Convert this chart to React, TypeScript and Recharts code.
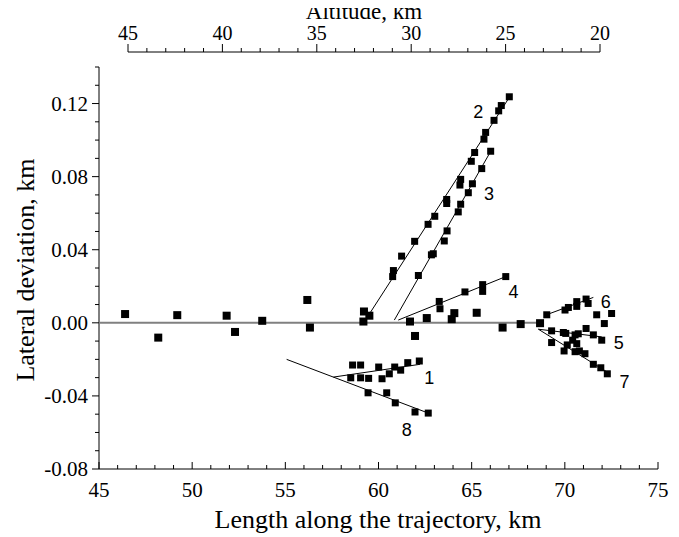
import React from "react";
import { ScatterChart, Scatter, XAxis, YAxis } from "recharts";

const SERIF = "'Liberation Serif', 'Times New Roman', serif";
const SANS = "'Liberation Sans', Arial, sans-serif";

// ticks
const xTicks = [45, 46, 47, 48, 49, 50, 51, 52, 53, 54, 55, 56, 57, 58, 59, 60, 61, 62, 63, 64, 65, 66, 67, 68, 69, 70, 71, 72, 73, 74, 75];
const xLabelTicks = [45, 50, 55, 60, 65, 70, 75];
const yTicks = [-0.08, -0.07, -0.06, -0.05, -0.04, -0.03, -0.02, -0.01, 0, 0.01, 0.02, 0.03, 0.04, 0.05, 0.06, 0.07, 0.08, 0.09, 0.1, 0.11, 0.12, 0.13, 0.14];
const yLabelTicks = [-0.08, -0.04, 0, 0.04, 0.08, 0.12];
const altTicks = [20, 21, 22, 23, 24, 25, 26, 27, 28, 29, 30, 31, 32, 33, 34, 35, 36, 37, 38, 39, 40, 41, 42, 43, 44, 45];
const altLabelTicks = [20, 25, 30, 35, 40, 45];

// zero reference and fitted lines
const zeroLine = [{ x: 45, y: 0 }, { x: 68.6, y: 0 }];
const fit1 = [{ x: 57.58, y: -0.0297 }, { x: 62.23, y: -0.0227 }];
const fit2 = [{ x: 59.45, y: 0.0039 }, { x: 67.06, y: 0.124 }];
const fit3 = [{ x: 60.85, y: 0.0015 }, { x: 66.07, y: 0.0947 }];
const fit4 = [{ x: 61.06, y: 0.0015 }, { x: 66.83, y: 0.0253 }];
const fit5 = [{ x: 68.58, y: -0.0035 }, { x: 71.98, y: -0.0077 }];
const fit6 = [{ x: 69.2, y: 0.0051 }, { x: 71.53, y: 0.0139 }];
const fit7 = [{ x: 68.58, y: -0.0035 }, { x: 72.33, y: -0.0273 }];
const fit8 = [{ x: 55.07, y: -0.02 }, { x: 62.67, y: -0.0494 }];

// measured points
const basePoints = [
  { x: 46.4, y: 0.0048 }, { x: 48.18, y: -0.0081 }, { x: 49.2, y: 0.0042 }, { x: 51.85, y: 0.0039 },
  { x: 52.3, y: -0.005 }, { x: 53.76, y: 0.0011 }, { x: 56.18, y: 0.0125 }, { x: 56.32, y: -0.0026 },
  { x: 59.22, y: 0.0062 }, { x: 59.19, y: 0.0007 }, { x: 59.51, y: 0.0039 }, { x: 61.69, y: 0.0007 },
  { x: 61.96, y: -0.0072 }, { x: 62.59, y: 0.0026 }, { x: 63.93, y: 0.002 }, { x: 64.07, y: 0.0053 },
  { x: 65.27, y: 0.0055 }, { x: 66.66, y: -0.0026 }, { x: 67.63, y: -0.0007 }, { x: 68.67, y: -0.0002 },
];
const points1 = [
  { x: 58.61, y: -0.0231 }, { x: 59.04, y: -0.0231 }, { x: 58.51, y: -0.0301 }, { x: 59.04, y: -0.0301 },
  { x: 59.47, y: -0.0304 }, { x: 60.01, y: -0.0242 }, { x: 60.19, y: -0.0306 }, { x: 60.58, y: -0.0279 },
  { x: 60.87, y: -0.0242 }, { x: 61.19, y: -0.0259 }, { x: 61.57, y: -0.0218 }, { x: 62.19, y: -0.0209 },
];
const points2 = [
  { x: 67.02, y: 0.1237 }, { x: 66.59, y: 0.1189 }, { x: 66.45, y: 0.116 }, { x: 66.2, y: 0.1108 },
  { x: 65.75, y: 0.1042 }, { x: 65.66, y: 0.1005 }, { x: 65.16, y: 0.0932 }, { x: 64.98, y: 0.0884 },
  { x: 64.41, y: 0.0785 }, { x: 64.37, y: 0.0754 }, { x: 63.66, y: 0.0675 }, { x: 63.66, y: 0.0653 },
  { x: 63.02, y: 0.0583 }, { x: 62.66, y: 0.0539 }, { x: 61.94, y: 0.0446 }, { x: 61.24, y: 0.0365 },
  { x: 60.8, y: 0.0286 }, { x: 60.76, y: 0.0253 },
];
const points3 = [
  { x: 66.02, y: 0.0939 }, { x: 65.54, y: 0.0844 }, { x: 65.04, y: 0.0761 }, { x: 64.82, y: 0.0712 },
  { x: 64.41, y: 0.0649 }, { x: 64.28, y: 0.0607 }, { x: 63.68, y: 0.0503 }, { x: 63.53, y: 0.0448 },
  { x: 62.94, y: 0.0378 }, { x: 62.84, y: 0.0372 }, { x: 62.14, y: 0.0259 },
];
const points4 = [
  { x: 66.83, y: 0.0253 }, { x: 65.59, y: 0.0209 }, { x: 65.59, y: 0.0172 }, { x: 64.64, y: 0.0169 },
  { x: 63.26, y: 0.0117 }, { x: 63.3, y: 0.0077 },
];
const points5 = [
  { x: 69.29, y: -0.0044 }, { x: 69.92, y: -0.0053 }, { x: 70.05, y: -0.0058 }, { x: 70.55, y: -0.0066 },
  { x: 70.72, y: -0.006 }, { x: 71.14, y: -0.0031 }, { x: 71.53, y: -0.0066 }, { x: 71.98, y: -0.0095 },
  { x: 69.29, y: -0.0108 }, { x: 70.42, y: -0.0095 }, { x: 70.64, y: -0.0114 },
];
const points6 = [
  { x: 69.03, y: 0.0044 }, { x: 70.01, y: 0.007 }, { x: 70.19, y: 0.0084 }, { x: 70.64, y: 0.0116 },
  { x: 70.64, y: 0.009 }, { x: 71.14, y: 0.013 }, { x: 71.25, y: 0.0106 }, { x: 71.71, y: 0.0044 },
  { x: 72.12, y: -0.0004 }, { x: 72.51, y: 0.0051 },
];
const points7 = [
  { x: 70.13, y: -0.0121 }, { x: 69.96, y: -0.0154 }, { x: 70.55, y: -0.0158 }, { x: 70.78, y: -0.0154 },
  { x: 71.08, y: -0.0169 }, { x: 71.53, y: -0.0227 }, { x: 71.93, y: -0.0246 }, { x: 72.28, y: -0.0279 },
];
const points8 = [
  { x: 59.44, y: -0.0383 }, { x: 60.44, y: -0.0383 }, { x: 60.9, y: -0.0438 }, { x: 61.96, y: -0.0488 },
  { x: 62.67, y: -0.0494 },
];

const seriesLabels = [
  { x: 65.36, y: 0.1157, label: "2" },
  { x: 65.93, y: 0.0704, label: "3" },
  { x: 67.24, y: 0.0172, label: "4" },
  { x: 62.73, y: -0.0301, label: "1" },
  { x: 61.51, y: -0.0585, label: "8" },
  { x: 72.2, y: 0.0117, label: "6" },
  { x: 72.9, y: -0.0108, label: "5" },
  { x: 73.2, y: -0.032, label: "7" },
];

const inList = (list: number[], v: number) => list.some((t) => Math.abs(t - v) < 1e-6);

const BottomTick = (props: any) => {
  const { x, y, payload } = props;
  const major = inList(xLabelTicks, payload.value);
  return (
    <g>
      <line x1={x} x2={x} y1={y} y2={y - (major ? 7 : 4)} stroke="#000" />
      {major && (
        <text x={x} y={y + 28} textAnchor="middle" fontFamily={SERIF} fontSize={21} fill="#000">
          {payload.value}
        </text>
      )}
    </g>
  );
};

const LeftTick = (props: any) => {
  const { x, y, payload } = props;
  const major = inList(yLabelTicks, payload.value);
  return (
    <g>
      <line x1={x - (major ? 7 : 4)} x2={x} y1={y} y2={y} stroke="#000" />
      {major && (
        <text x={x - 11} y={y + 7} textAnchor="end" fontFamily={SERIF} fontSize={21} fill="#000">
          {Number(payload.value).toFixed(2)}
        </text>
      )}
    </g>
  );
};

const RightTick = (props: any) => {
  const { x, y, payload } = props;
  const major = inList(yLabelTicks, payload.value);
  return <line x1={x - (major ? 7 : 5)} x2={x} y1={y} y2={y} stroke="#000" />;
};

const AltTick = (props: any) => {
  const { x, y, payload } = props;
  const major = inList(altLabelTicks, payload.value);
  return (
    <g>
      <line x1={x} x2={x} y1={y} y2={y - (major ? 8 : 4)} stroke="#000" />
      {major && (
        <text x={x} y={y - 12} textAnchor="middle" fontFamily={SERIF} fontSize={20} fill="#000">
          {payload.value}
        </text>
      )}
    </g>
  );
};

const BigSquare = (p: any) => <rect x={p.cx - 4} y={p.cy - 4} width={8} height={8} fill="#000" />;
const SmallSquare = (p: any) => <rect x={p.cx - 3.5} y={p.cy - 3.5} width={7} height={7} fill="#000" />;
const NoDot = () => <g />;
const NumberLabel = (p: any) => (
  <text x={p.cx} y={p.cy} dy="0.35em" textAnchor="middle" fontFamily={SANS} fontSize={18} fill="#000">
    {p.payload.label}
  </text>
);

const lineStyle = { stroke: "#000", strokeWidth: 1 };
const fits = [fit1, fit2, fit3, fit4, fit5, fit6, fit7, fit8];
const pointSets = [points1, points2, points3, points4, points5, points6, points7, points8];

export default function App() {
  return (
    <div style={{ position: "relative", width: 679, height: 537, marginLeft: -8, marginTop: -8 }}>
      <div style={{ position: "absolute", left: 0, top: 0 }}>
        <ScatterChart width={679} height={537} margin={{ top: 67, right: 21, bottom: 0, left: 0 }}>
          <XAxis
            type="number"
            dataKey="x"
            domain={[45, 75]}
            ticks={xTicks}
            interval={0}
            height={68}
            tickSize={0}
            tickMargin={0}
            tickLine={false}
            tick={BottomTick}
            axisLine={{ stroke: "#000" }}
            allowDataOverflow
          />
          <YAxis
            yAxisId="left"
            type="number"
            dataKey="y"
            domain={[-0.08, 0.14]}
            ticks={yTicks}
            interval={0}
            width={99}
            tickSize={0}
            tickMargin={0}
            tickLine={false}
            tick={LeftTick}
            axisLine={{ stroke: "#000" }}
            allowDataOverflow
          />
          <YAxis
            yAxisId="right"
            orientation="right"
            type="number"
            dataKey="y"
            domain={[-0.08, 0.14]}
            ticks={yTicks}
            interval={0}
            width={0}
            tickSize={0}
            tickMargin={0}
            tickLine={false}
            tick={RightTick}
            axisLine={{ stroke: "#000" }}
            allowDataOverflow
          />
          <Scatter
            yAxisId="left"
            data={zeroLine}
            line={{ stroke: "#808080", strokeWidth: 2 }}
            shape={NoDot}
            isAnimationActive={false}
          />
          {fits.map((d, i) => (
            <Scatter key={"fit" + i} yAxisId="left" data={d} line={lineStyle} shape={NoDot} isAnimationActive={false} />
          ))}
          <Scatter yAxisId="left" data={basePoints} shape={BigSquare} isAnimationActive={false} />
          {pointSets.map((d, i) => (
            <Scatter key={"pts" + i} yAxisId="left" data={d} shape={SmallSquare} isAnimationActive={false} />
          ))}
          <Scatter yAxisId="left" data={seriesLabels} shape={NumberLabel} isAnimationActive={false} />
        </ScatterChart>
      </div>
      <div style={{ position: "absolute", left: 0, top: 0, pointerEvents: "none" }}>
        <ScatterChart width={679} height={70} margin={{ top: 0, right: 79, bottom: 0, left: 128 }}>
          <XAxis
            xAxisId="alt"
            orientation="top"
            type="number"
            dataKey="x"
            domain={[20, 45]}
            reversed
            ticks={altTicks}
            interval={0}
            height={52}
            tickSize={0}
            tickMargin={0}
            tickLine={false}
            tick={AltTick}
            axisLine={{ stroke: "#000" }}
            allowDataOverflow
          />
          <YAxis yAxisId="alt" type="number" dataKey="y" domain={[0, 1]} hide />
          <Scatter xAxisId="alt" yAxisId="alt" data={[]} shape={NoDot} isAnimationActive={false} />
        </ScatterChart>
      </div>
      <div
        style={{
          position: "absolute",
          left: 364,
          top: 0,
          transform: "translateX(-50%)",
          fontFamily: SERIF,
          fontSize: 23,
          whiteSpace: "nowrap",
          lineHeight: 1,
        }}
      >
        Altitude, km
      </div>
      <div
        style={{
          position: "absolute",
          left: 378,
          top: 520,
          transform: "translate(-50%, -50%)",
          fontFamily: SERIF,
          fontSize: 26,
          whiteSpace: "nowrap",
          lineHeight: 1,
        }}
      >
        Length along the trajectory, km
      </div>
      <div
        style={{
          position: "absolute",
          left: 26,
          top: 270,
          transform: "translate(-50%, -50%) rotate(-90deg)",
          fontFamily: SERIF,
          fontSize: 26,
          whiteSpace: "nowrap",
          lineHeight: 1,
        }}
      >
        Lateral deviation, km
      </div>
    </div>
  );
}
